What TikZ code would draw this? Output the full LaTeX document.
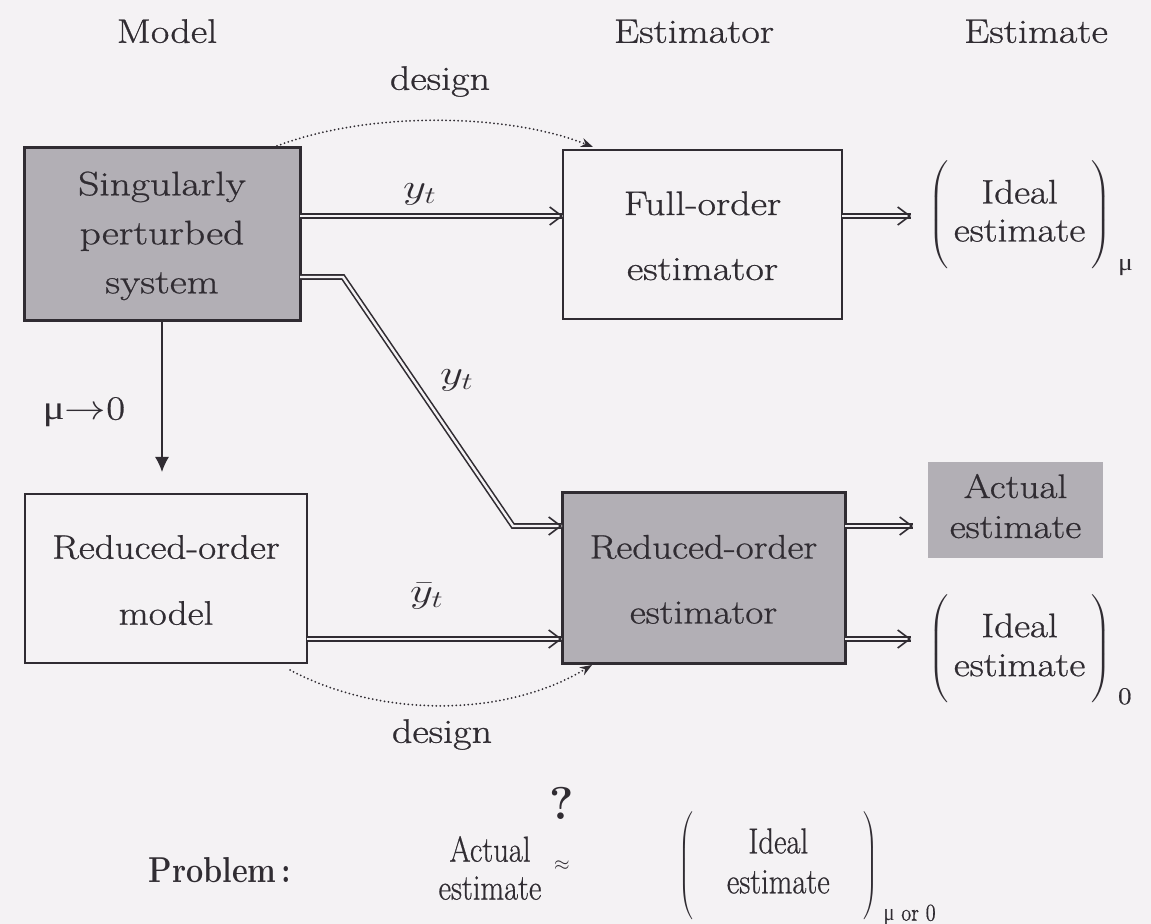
\documentclass[tikz,border=0pt]{standalone}
\usepackage{fontspec}
\usepackage{graphicx}
\usetikzlibrary{arrows.meta,calc}
\setmainfont{Latin Modern Roman}[UprightFeatures={FakeBold=0.7}]
\newfontfamily\grk{Liberation Serif}
\definecolor{bg}{RGB}{244,242,244}
\definecolor{shade}{RGB}{178,175,181}
\definecolor{ink}{RGB}{48,44,50}
\newcommand{\wtxt}[2][1.18]{\scalebox{#1}[1]{\begin{tabular}{@{}c@{}}#2\end{tabular}}}
% parenthesised block: #1 x-stretch, #2 half height, #3 lines, #4 subscript, #5 inner pad
\newcommand{\pbox}[5]{\scalebox{#1}[1]{$\delimiterfactor=1000\delimitershortfall=0pt
  \left(\vcenter{\hbox{\vrule height #2 depth #2 width 0pt}}\hspace{#5}\vcenter{\hbox{\begin{tabular}{@{}c@{}}#3\end{tabular}}}\hspace{#5}\right)_{\hbox{\hspace{3pt}\fontsize{12}{12}\selectfont #4}}$}}
\begin{document}
\begin{tikzpicture}[x=0.5pt,y=-0.5pt,line join=miter,
  every node/.style={inner sep=0pt, outer sep=0pt, text=ink, font=\fontsize{17}{24.5}\selectfont},
  blk/.style={draw=ink, line width=1pt, align=center},
  shaded/.style={fill=shade, line width=1.5pt},
  dbl/.style={draw=ink, double=bg, double distance=1.2pt, line width=0.8pt},
  tipst/.style={draw=ink, line width=0.8pt, -{Straight Barb[length=6pt,width=9pt]}},
  thinarrow/.style={draw=ink, line width=0.7pt, -{Latex[length=7.5pt,width=7pt]}},
  dots/.style={draw=ink, line width=1pt, line cap=round, dash pattern=on 0pt off 2pt, -{Stealth[length=6pt,width=4.5pt]}}]
\fill[bg] (0,0) rectangle (1151,924);
\useasboundingbox (0,0) rectangle (1151,924);

% column headings
\node (hmodel) at (167,33) {\wtxt{Model}};
\node (hestor) at (694,33) {\wtxt{Estimator}};
\node (hest) at (1036,33) {\wtxt{Estimate}};

% boxes
\node[blk, shaded, minimum width=138pt, minimum height=86.5pt] (sps) at (162,234.5) {\wtxt[1.22]{Singularly\\perturbed\\system}};
\node[blk, minimum width=139.5pt, minimum height=84.5pt, font=\fontsize{17}{32.5}\selectfont] (fo) at (702.5,234.5) {\wtxt{Full-order\\estimator}};
\node[blk, minimum width=141pt, minimum height=84.5pt, font=\fontsize{17}{33}\selectfont] (rom) at (166,578.5) {\wtxt[1.15]{Reduced-order\\model}};
\node[blk, shaded, minimum width=141.5pt, minimum height=85pt, font=\fontsize{17}{32.5}\selectfont] (roe) at (703.5,578) {\wtxt[1.15]{Reduced-order\\estimator}};
\node[fill=shade, minimum width=87.5pt, minimum height=48pt, font=\fontsize{17}{20}\selectfont] (act) at (1015.5,510) {\wtxt[1.15]{Actual\\estimate}};

% ideal estimates
\node[anchor=base west, font=\fontsize{17}{19}\selectfont] (idmu) at (928,223.5) {\pbox{1.15}{26pt}{Ideal\\estimate}{\grk μ}{2.5pt}};
\node[anchor=base west, font=\fontsize{17}{19.5}\selectfont] (idz) at (928,657.5) {\pbox{1.15}{27pt}{Ideal\\estimate}{0}{2.5pt}};

% labels
\node (lyt1) at (420,194) {\scalebox{1.3}[1]{$y_t$}};
\node (lyt2) at (457,380) {\scalebox{1.3}[1]{$y_t$}};
\node (lyb) at (427,596) {\scalebox{1.3}[1]{$\bar y_t$}};
\node (lmu) at (84,412) {\scalebox{1.2}[1]{{\grk μ}$\to$0}};
\node (ldes1) at (440,80) {\wtxt{design}};
\node (ldes2) at (442,733) {\wtxt{design}};

% connectors
\coordinate (ya) at (0,216);
\coordinate (b1) at (343,277);
\coordinate (b2) at (513,526);
\coordinate (yb) at (0,639);
\coordinate (e1) at (fo.west |- ya);
\coordinate (e2) at ($(idmu.west |- ya)+(-17,0)$);
\coordinate (e3) at (roe.west |- b2);
\coordinate (e4) at (roe.west |- yb);
\coordinate (e5) at ($(act.west |- b2)+(-15,0)$);
\coordinate (e6) at ($(idz.west |- yb)+(-17,0)$);
\draw[dbl] (sps.east |- ya) -- (e1);
\draw[dbl] (fo.east |- ya) -- (e2);
\draw[dbl] (sps.east |- b1) -- (b1) -- (b2) -- (e3);
\draw[dbl] (rom.east |- yb) -- (e4);
\draw[dbl] (roe.east |- b2) -- (e5);
\draw[dbl] (roe.east |- yb) -- (e6);
\foreach \e in {e1,e2,e3,e4,e5,e6} \draw[tipst] ($(\e)+(-3,0)$) -- (\e);
\draw[thinarrow, shorten >=11pt] (sps.south) -- (sps.south |- rom.north);
\draw[dots] ($(sps.north east)+(-23,-2)$) .. controls (365,112) and (505,112) .. ($(fo.north west)+(30,-3)$);
\draw[dots] ($(rom.south east)+(-17,7)$) .. controls (380,718) and (505,718) .. ($(roe.south west)+(30,2)$);

% problem statement
\node (prob) at (220,870) {\fontsize{18}{18}\selectfont\scalebox{0.85}[1]{\bfseries Problem\,:}};
\node[font=\fontsize{18}{19}\selectfont] (pact) at (490,873) {\wtxt[0.85]{Actual\\estimate}};
\node (pq) at (562,803) {\fontsize{23}{23}\selectfont\bfseries ?};
\node (pap) at (562,866) {\fontsize{10}{10}\selectfont$\approx$};
\node[anchor=base west, font=\fontsize{18}{20}\selectfont] (pid) at (678,874) {\pbox{0.85}{25pt}{Ideal\\estimate}{{\grk μ} or 0}{20pt}};
\end{tikzpicture}
\end{document}
